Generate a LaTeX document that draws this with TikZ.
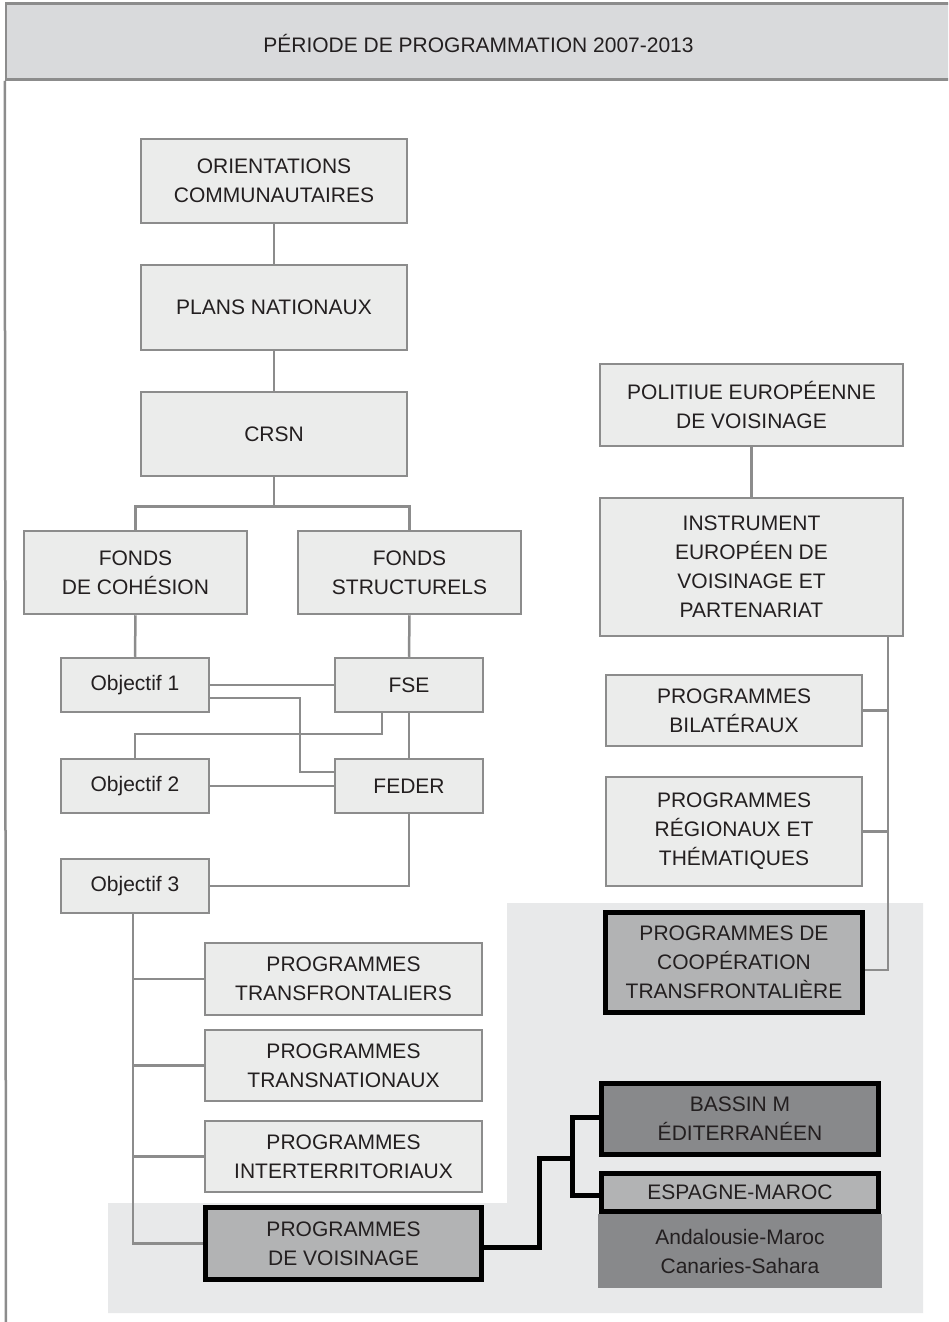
\documentclass[tikz,border=0pt]{standalone}
\usepackage{fontspec}
\setmainfont{Liberation Sans}
\usetikzlibrary{calc}

\definecolor{headfill}{HTML}{D9DADC}
\definecolor{boxfill}{HTML}{EBECEB}
\definecolor{linegray}{HTML}{8C8C8C}
\definecolor{zonefill}{HTML}{E8E9EA}
\definecolor{midfill}{HTML}{B2B3B4}
\definecolor{darkfill}{HTML}{88898B}
\definecolor{ink}{HTML}{231F20}

\tikzset{
  lbl/.style={font=\fontsize{21}{29}\selectfont, text=ink, align=center, inner sep=0pt},
  greybox/.style={lbl, draw=linegray, line width=2.5pt, fill=boxfill},
  boldbox/.style={lbl, draw=black, line width=5pt, fill=midfill},
  darkbox/.style={lbl, draw=black, line width=5pt, fill=darkfill},
  plainbox/.style={lbl, fill=darkfill},
  headbox/.style={draw=linegray, line width=2.5pt, fill=headfill, inner sep=0pt},
  link/.style={draw=linegray, line width=2.5pt},
  boldlink/.style={draw=black, line width=5pt, line join=miter},
}

\begin{document}
\begin{tikzpicture}[x=1pt, y=-1pt]
\useasboundingbox (0,0) rectangle (948,1322);
\clip (0,0) rectangle (948,1322);
\fill[white] (0,0) rectangle (948,1322);

% shaded zone behind the neighbourhood programmes
\fill[zonefill] (507,903) -- (923,903) -- (923,1313) -- (108,1313)
  -- (108,1203) -- (507,1203) -- cycle;

% title band and page frame
\node[headbox, minimum width=1000pt, minimum height=76pt] (header) at (506,41.5) {};
\node[lbl] (title) at (478.5,43) {PÉRIODE DE PROGRAMMATION 2007-2013};
\draw[link] (header.south west) -- (6,1330);

% left branch: structural funds
\node[greybox, minimum width=266pt, minimum height=84pt] (orient) at (274,181)
  {ORIENTATIONS\\COMMUNAUTAIRES};
\node[greybox, minimum width=266pt, minimum height=85pt] (plans) at (274,307.5)
  {PLANS NATIONAUX};
\node[greybox, minimum width=266pt, minimum height=84pt] (crsn) at (274,434)
  {CRSN};
\node[greybox, minimum width=223pt, minimum height=83pt] (cohesion) at (135.5,572.5)
  {FONDS\\DE COHÉSION};
\node[greybox, minimum width=223pt, minimum height=83pt] (struct) at (409.5,572.5)
  {FONDS\\STRUCTURELS};
\node[greybox, minimum width=148pt, minimum height=54pt] (obj1) at (135,685)
  {Objectif 1};
\node[greybox, minimum width=148pt, minimum height=54pt] (fse) at (409,685)
  {FSE};
\node[greybox, minimum width=148pt, minimum height=54pt] (obj2) at (135,786)
  {Objectif 2};
\node[greybox, minimum width=148pt, minimum height=54pt] (feder) at (409,786)
  {FEDER};
\node[greybox, minimum width=148pt, minimum height=54pt] (obj3) at (135,886)
  {Objectif 3};
\node[greybox, minimum width=277pt, minimum height=72pt] (transf) at (343.5,979)
  {PROGRAMMES\\TRANSFRONTALIERS};
\node[greybox, minimum width=277pt, minimum height=71pt] (transn) at (343.5,1065.5)
  {PROGRAMMES\\TRANSNATIONAUX};
\node[greybox, minimum width=277pt, minimum height=71pt] (intert) at (343.5,1156.5)
  {PROGRAMMES\\INTERTERRITORIAUX};
\node[boldbox, minimum width=276pt, minimum height=72pt] (voisin) at (343.5,1243.5)
  {PROGRAMMES\\DE VOISINAGE};

% right branch: neighbourhood policy
\node[greybox, minimum width=303pt, minimum height=82pt] (politique) at (751.5,405)
  {POLITIUE EUROPÉENNE\\DE VOISINAGE};
\node[greybox, minimum width=303pt, minimum height=138pt] (instrument) at (751.5,567)
  {INSTRUMENT\\EUROPÉEN DE\\VOISINAGE ET\\PARTENARIAT};
\node[greybox, minimum width=256pt, minimum height=71pt] (bilat) at (734,710.5)
  {PROGRAMMES\\BILATÉRAUX};
\node[greybox, minimum width=256pt, minimum height=109pt] (regio) at (734,831.5)
  {PROGRAMMES\\RÉGIONAUX ET\\THÉMATIQUES};
\node[boldbox, minimum width=257pt, minimum height=100pt] (coop) at (734,962.5)
  {PROGRAMMES DE\\COOPÉRATION\\TRANSFRONTALIÈRE};

% Mediterranean programmes
\node[plainbox, minimum width=284pt, minimum height=74pt] (andal) at (740,1251)
  {Andalousie-Maroc\\Canaries-Sahara};
\node[darkbox, minimum width=277pt, minimum height=71pt] (bassin) at (740,1119)
  {BASSIN M\\ÉDITERRANÉEN};
\node[boldbox, minimum width=277pt, minimum height=38pt] (espagne) at (740,1192.5)
  {ESPAGNE-MAROC};

% connectors, left branch
\draw[link] (orient.south) -- (plans.north);
\draw[link] (plans.south) -- (crsn.north);
\draw[link] (crsn.south) -- ++(0,29) coordinate (split);
\draw[link] (cohesion.north) |- (split) -| (struct.north);
\draw[link] (cohesion.south) -- (obj1.north);
\draw[link] (struct.south) -- (fse.north);
\draw[link] (obj1.east) -- (fse.west);
\draw[link] (obj1.east |- 0,698) -- (300,698) |- (feder.west |- 0,772);
\draw[link] (fse.south -| 382,0) -- (382,734) -| (obj2.north);
\draw[link] (fse.south) -- (feder.north);
\draw[link] (obj2.east) -- (feder.west);
\draw[link] (feder.south) |- (obj3.east);
\draw[link] (obj3.south -| 133,0) |- (voisin.west);
\draw[link] (transf.west -| 133,0) -- (transf.west);
\draw[link] (transn.west -| 133,0) -- (transn.west);
\draw[link] (intert.west -| 133,0) -- (intert.west);

% connectors, right branch
\draw[link] (politique.south) -- (instrument.north);
\draw[link] (instrument.south -| 888,0) |- (coop.east |- 0,970);
\draw[link] (bilat.east) -- (bilat.east -| 888,0);
\draw[link] (regio.east) -- (regio.east -| 888,0);

% bold connectors to the Mediterranean programmes
\draw[boldlink] (voisin.east |- 0,1247) -| (539,1158) -- (572,1158);
\draw[boldlink] (bassin.west |- 0,1117) -| (572,1195) -- (espagne.west |- 0,1195);
\end{tikzpicture}
\end{document}
